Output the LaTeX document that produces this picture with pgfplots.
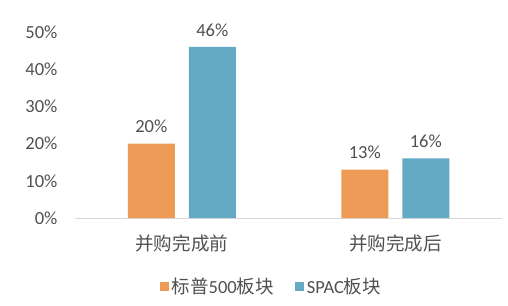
\documentclass[border=0pt]{standalone}
\usepackage{pgfplots}
\pgfplotsset{compat=1.18}
\usepackage{fontspec}
\setmainfont{Carlito}
\newfontfamily\cjk{Noto Sans CJK SC}
\definecolor{txt}{HTML}{505050}
\definecolor{ora}{HTML}{ED9B57}
\definecolor{blu}{HTML}{64AAC4}
\definecolor{axl}{HTML}{D9D9D9}
\begin{document}
\begin{tikzpicture}
\begin{axis}[
  scale only axis,
  width=427pt, height=186pt,
  xmin=-0.5, xmax=1.5,
  ymin=0, ymax=50,
  ybar=14pt, bar width=47pt,
  axis x line*=bottom,
  axis y line*=left,
  y axis line style={draw=none},
  x axis line style={axl, line width=1pt, -},
  xtick={0,1},
  xticklabels={{\cjk 并购完成前},{\cjk 并购完成后}},
  xtick style={draw=none},
  xticklabel style={text=txt, font=\fontsize{18.5}{21}\selectfont, yshift=-9pt},
  ytick={0,10,20,30,40,50},
  yticklabels={0\%,10\%,20\%,30\%,40\%,50\%},
  ytick style={draw=none},
  yticklabel style={text=txt, font=\fontsize{18.5}{21}\selectfont, xshift=-14pt},
  nodes near coords={\pgfmathprintnumber{\pgfplotspointmeta}\%},
  nodes near coords style={text=txt, font=\fontsize{18.5}{21}\selectfont, /pgf/number format/assume math mode=true, yshift=7pt},
  legend columns=2,
  legend style={draw=none, fill=none, at={(0.461,-0.366)}, anchor=center,
    font=\fontsize{18.5}{21}\selectfont, text=txt,
    /tikz/every odd column/.append style={column sep=0pt},
    /tikz/every even column/.append style={column sep=18pt},
    nodes={inner xsep=3pt}},
  legend image code/.code={\fill[#1] (0pt,-4.5pt) rectangle (9pt,4.5pt);},
  clip=false,
]
\addplot[fill=ora, draw=none] coordinates {(0,20) (1,13)};
\addplot[fill=blu, draw=none] coordinates {(0,46) (1,16)};
\legend{{\cjk 标普}500{\cjk 板块},SPAC{\cjk 板块}}
\end{axis}
\path (current axis.south west) ++(-75pt,-87pt) rectangle ++(508pt,305pt);
\end{tikzpicture}
\end{document}
